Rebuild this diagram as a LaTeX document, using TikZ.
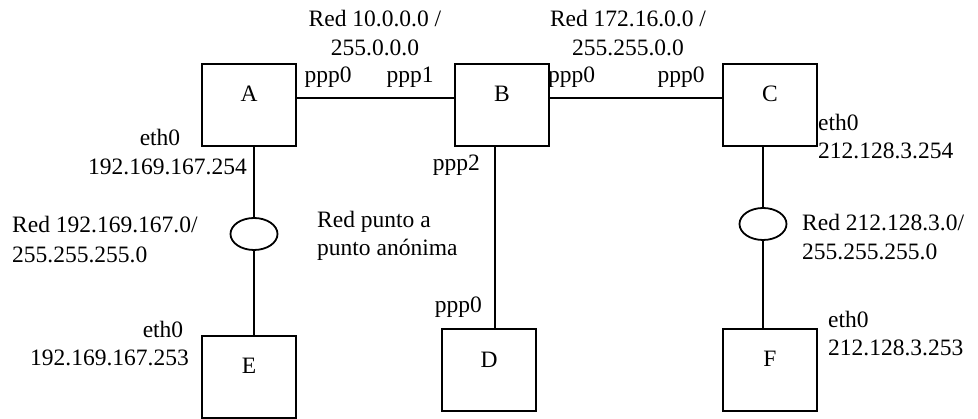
\documentclass[tikz,border=0pt]{standalone}
\usepackage{fontspec}
\setmainfont{Liberation Serif}
\usetikzlibrary{shapes.geometric}
\begin{document}
\begin{tikzpicture}[x=1pt,y=-1pt,
  every node/.style={font=\fontsize{23.5}{29}\selectfont},
  box/.style={draw,line width=2pt,minimum width=94pt,minimum height=82pt,inner sep=0pt,text height=16pt,text depth=22pt},
  net/.style={draw,ellipse,line width=1.8pt,minimum width=47pt,minimum height=32pt,inner sep=0pt},
  lnk/.style={line width=1.8pt},
  lb/.style={inner sep=0pt,anchor=base},
  lbw/.style={inner sep=0pt,anchor=base west},
  lbe/.style={inner sep=0pt,anchor=base east}]
\useasboundingbox (0,0) rectangle (978,419);
% routers / hosts
\node[box] (A) at (249,105) {A};
\node[box] (B) at (502,105) {B};
\node[box] (C) at (770,105) {C};
\node[box] (E) at (249,377) {E};
\node[box] (D) at (489,370.5) {D};
\node[box] (F) at (770,370) {F};
\node[net] (n1) at (254,234) {};
\node[net] (n2) at (763,224) {};
% links
\draw[lnk] ([yshift=7pt]A.east) -- ([yshift=7pt]B.west);
\draw[lnk] ([yshift=7pt]B.east) -- ([yshift=7pt]C.west);
\draw[lnk] ([xshift=5pt]A.south) -- (n1.north);
\draw[lnk] (n1.south) -- ([xshift=5pt]E.north);
\draw[lnk] ([xshift=-7pt]B.south) -- ([xshift=-7pt]B.south |- D.north);
\draw[lnk] ([xshift=-7pt]C.south) -- (n2.north);
\draw[lnk] (n2.south) -- ([xshift=-7pt]F.north);
% labels top
\node[lb] (t1) at (375,27) {Red 10.0.0.0 /};
\node[lb] (t2) at (375,56) {255.0.0.0};
\node[lb] (p1) at (328,83) {ppp0};
\node[lb] (p2) at (410,83) {ppp1};
\node[lb] (t3) at (628,27) {Red 172.16.0.0 /};
\node[lb] (t4) at (628,56) {255.255.0.0};
\node[lbw] (p3) at (548,83) {ppp0};
\node[lb] (p4) at (681,83) {ppp0};
\node[lbw] (c1) at (818,131) {eth0};
\node[lbw] (c2) at (818,159) {212.128.3.254};
% left
\node[lb] (a1) at (160,146) {eth0};
\node[lbe] (a2) at (247,175) {192.169.167.254};
\node[lbw] (r1) at (12,233) {Red 192.169.167.0/};
\node[lbw] (r2) at (12,263) {255.255.255.0};
\node[lb] (e1) at (163,338) {eth0};
\node[lbw] (e2) at (30,366) {192.169.167.253};
% middle
\node[lbw] (m1) at (317,228) {Red punto a};
\node[lbw] (m2) at (317,256) {punto anónima};
\node[lbe] (p5) at (480,171) {ppp2};
\node[lbe] (p6) at (482,313) {ppp0};
% right
\node[lbw] (s1) at (802,231) {Red 212.128.3.0/};
\node[lbw] (s2) at (802,260) {255.255.255.0};
\node[lbw] (f1) at (828,328) {eth0};
\node[lbw] (f2) at (828,356) {212.128.3.253};
\end{tikzpicture}
\end{document}
